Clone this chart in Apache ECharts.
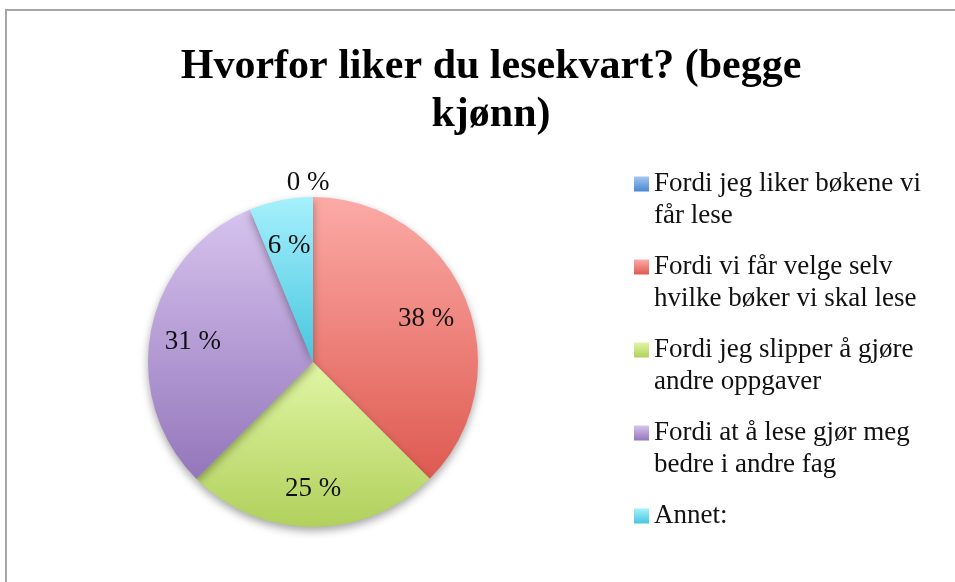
<!DOCTYPE html>
<html>
<head>
<meta charset="utf-8">
<script src="https://cdn.jsdelivr.net/npm/echarts@6/dist/echarts.min.js"></script>
<style>
    html, body { margin: 0; padding: 0; background: #fff; }
    #frame { position: absolute; left: 5px; top: 9px; width: 1000px; height: 600px;
             border-top: 2px solid #a6a6a6; border-left: 2px solid #a6a6a6; }
    #chart { position: absolute; left: 0; top: 0; width: 955px; height: 582px; }
</style>
</head>
<body>
<div id="frame"></div>
<div id="chart"></div>
<script>
    // data
    var categories = [
        'Fordi jeg liker bøkene vi får lese',
        'Fordi vi får velge selv hvilke bøker vi skal lese',
        'Fordi jeg slipper å gjøre andre oppgaver',
        'Fordi at å lese gjør meg bedre i andre fag',
        'Annet:'
    ];
    var legendLabels = [
        'Fordi jeg liker bøkene vi\nfår lese',
        'Fordi vi får velge selv\nhvilke bøker vi skal lese',
        'Fordi jeg slipper å gjøre\nandre oppgaver',
        'Fordi at å lese gjør meg\nbedre i andre fag',
        'Annet:'
    ];
    var counts = [0, 6, 4, 5, 1];
    // gradient top / bottom colours per slice
    var topColors = ['#a3c7f2', '#fcaaa6', '#e0f6a4', '#d6c3ee', '#a6f0fd'];
    var bottomColors = ['#4a87d0', '#de5a50', '#b1d05c', '#9476bb', '#47c6de'];

    function grad(i) {
        return new echarts.graphic.LinearGradient(0, 0, 0, 1, [
            {offset: 0, color: topColors[i]},
            {offset: 1, color: bottomColors[i]}
        ]);
    }

    var total = counts.reduce(function (a, b) { return a + b; }, 0);
    var fontFam = '"Liberation Serif", "DejaVu Serif", serif';

    var pieData = categories.map(function (name, i) {
        return {name: name, value: counts[i], itemStyle: {color: grad(i)}};
    });
    var labelData = categories.map(function (name, i) {
        var item = {name: name, value: counts[i]};
        if (counts[i] === 0) {
            item.label = {position: 'outside'};
        }
        return item;
    });
    var legendData = categories.map(function (name, i) {
        return {name: name, itemStyle: {color: grad(i)}};
    });

    var chart = echarts.init(document.getElementById('chart'));
    var option = {
        animation: false,
        title: {
            text: 'Hvorfor liker du lesekvart? (begge\nkjønn)',
            left: 486,
            top: 38,
            textAlign: 'center',
            textStyle: {
                fontFamily: fontFam,
                fontWeight: 'bold',
                fontSize: 42,
                lineHeight: 48,
                color: '#000'
            }
        },
        legend: {
            orient: 'vertical',
            left: 634,
            top: 136,
            padding: 0,
            itemWidth: 15,
            itemHeight: 15,
            itemGap: -13,
            icon: 'rect',
            selectedMode: false,
            data: legendData,
            // blank first line keeps the icon level with the first text line
            formatter: function (name) {
                var t = legendLabels[categories.indexOf(name)];
                return t.indexOf('\n') >= 0 ? '\n' + t : '\n' + t + '\n';
            },
            textStyle: {
                fontFamily: fontFam,
                fontSize: 27,
                lineHeight: 32,
                color: '#111'
            }
        },
        series: [
            {
                type: 'pie',
                center: [313, 362],
                radius: [0, 165],
                startAngle: 90,
                clockwise: true,
                silent: true,
                label: {show: false},
                labelLine: {show: false},
                itemStyle: {
                    shadowBlur: 8,
                    shadowOffsetY: 4,
                    shadowColor: 'rgba(0,0,0,0.35)'
                },
                data: pieData
            },
            {
                type: 'pie',
                center: [313, 366],
                radius: [74, 165],
                startAngle: 90,
                clockwise: true,
                silent: true,
                avoidLabelOverlap: false,
                itemStyle: {color: 'rgba(0,0,0,0)'},
                label: {
                    show: true,
                    position: 'inside',
                    fontFamily: fontFam,
                    fontSize: 27,
                    color: '#111',
                    formatter: function (p) {
                        return Math.round(p.value / total * 100) + ' %';
                    }
                },
                labelLine: {show: false, length: 18, length2: 0},
                labelLayout: function (p) {
                    if (p.dataIndex === 0) {
                        return {align: 'center'};
                    }
                    return {};
                },
                data: labelData
            }
        ]
    };
    chart.setOption(option);
</script>
</body>
</html>
